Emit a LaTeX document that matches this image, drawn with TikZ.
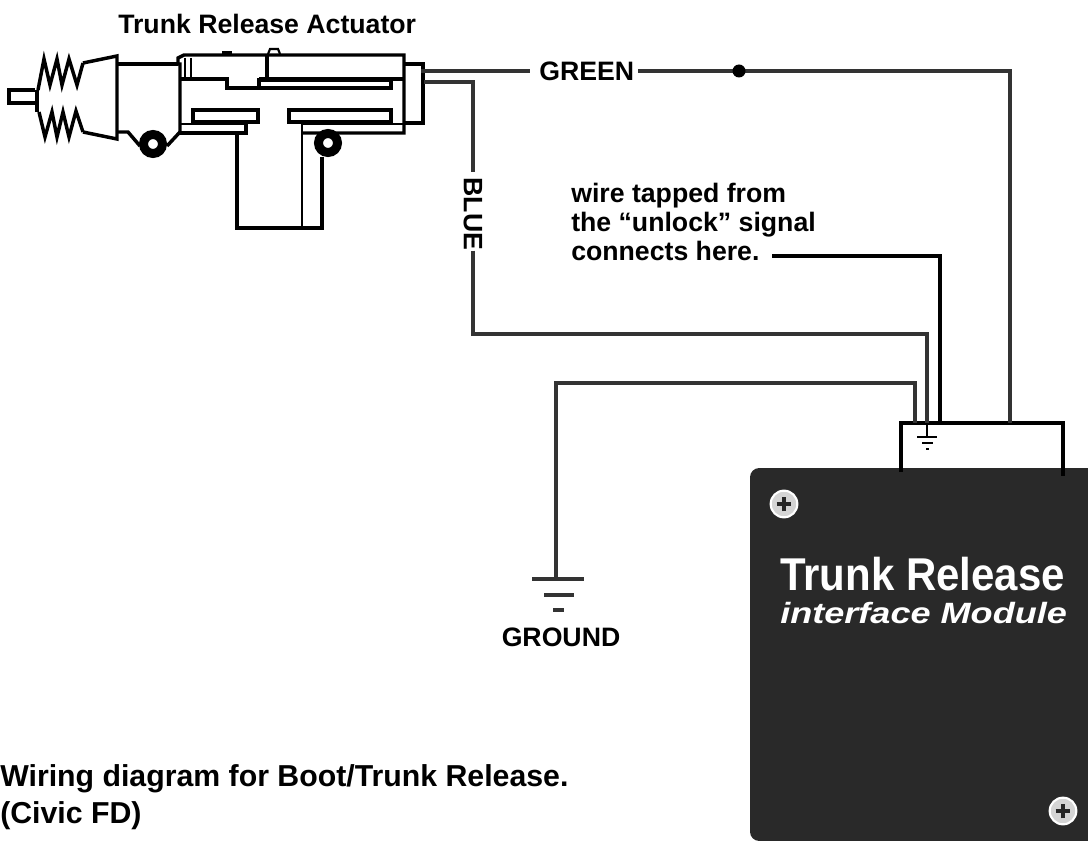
\documentclass[tikz,border=0pt]{standalone}
\usepackage{fontspec}
\setmainfont{Liberation Sans}
\tikzset{
  wire/.style={line width=2.5pt,color=black!80},
  body/.style={line width=2.6pt,line join=miter},
  label/.style={inner sep=0pt,font=\bfseries\fontsize{20}{24}\selectfont},
  plate/.style={fill=black!84,rounded corners=7pt,draw=none},
  screwhead/.style={circle,fill=black!17,draw=white,line width=1.6pt,minimum size=20pt,inner sep=0pt}
}
\begin{document}
\begin{tikzpicture}[x=0.75pt,y=-0.75pt]
\useasboundingbox (0,0) rectangle (1088,841);
% module
\fill[plate] (750,468) rectangle (1110,841);
\node[screwhead] (screwa) at (784,504) {};
\node[screwhead] (screwb) at (1063,811) {};
\foreach \s in {screwa,screwb} {
  \draw[line width=3pt,black!85] ([xshift=-5.5pt]\s.center)--([xshift=5.5pt]\s.center);
  \draw[line width=3pt,black!85] ([yshift=-5.5pt]\s.center)--([yshift=5.5pt]\s.center);
}
\node[anchor=west,inner sep=0pt,white,font=\bfseries\fontsize{34.5}{36}\selectfont] (title) at (780,574) {\scalebox{0.912}[1]{Trunk Release}};
\node[anchor=west,inner sep=0pt,white,font=\bfseries\itshape\fontsize{22}{24}\selectfont] (subtitle) at (780,613) {\scalebox{1.23}[1]{interface Module}};
% connector box
\coordinate (boxl) at (901,423);
\coordinate (boxr) at (1063,423);
\coordinate (boxg) at (915,423);
\coordinate (boxb) at (927,423);
\coordinate (boxu) at (940,423);
\coordinate (boxv) at (1010,423);
\draw[body] (901,472)--(boxl)--(boxr)--(1063,476);
\draw[line width=1pt] (boxb)--(927,437);
\draw[line width=1pt] (917,437)--(937,437);
\draw[line width=1pt] (922,443)--(933,443);
\draw[line width=1.2pt] (926,449)--(929,449);
% labels
\node[label,anchor=west] (actlabel) at (118,24) {Trunk Release Actuator};
\node[label,anchor=west] (green) at (539,71) {GREEN};
\node[label,rotate=-90] (blue) at (473,214) {BLUE};
\node[label,anchor=west,align=left,font=\bfseries\fontsize{20}{21.4}\selectfont] (unlock) at (571,222) {wire tapped from\\the “unlock” signal\\connects here.};
\node[label] (gnd) at (561,637) {GROUND};
\node[label,anchor=west,align=left,font=\bfseries\fontsize{22.7}{27.7}\selectfont] (caption) at (0,797) {Wiring diagram for Boot/Trunk Release.\\(Civic FD)};
% actuator
\coordinate (actg) at (421,71);
\coordinate (actb) at (424,82);
\draw[body] (35,90)--(9,90)--(9,103)--(35,103);
\draw[body] (38,90)--(44,59)--(50,85)--(57,59)--(62,85)--(69,59)--(77,85)--(83,63);
\draw[body] (39,112)--(45,137)--(52,112)--(57,137)--(63,112)--(69,137)--(76,111)--(83,132);
\draw[line width=3.5pt] (37,90)--(37,112);
\draw[body] (83,63)--(117,56)--(117,139)--(83,132);
\draw[body] (117,64)--(178,64);
\draw[body] (117,132)--(128,132)--(140,146);
\draw[body] (167,146)--(180,132);
\draw[line width=6.75pt] (153,144) circle (9.5);
\draw[body] (180,132)--(180,64)--(178,64)--(178,58)--(184,55)--(404,55)--(404,133)--(302,133);
\draw[body] (404,64)--(423,64)--(423,123)--(404,123);
\draw[line width=1.6pt] (185,58)--(185,79) (191,58)--(191,79);
\draw[body] (180,79)--(227,79)--(227,88)--(391,88)--(391,80)--(259,80)--(259,88);
\draw[body] (259,79)--(404,79);
\draw[body] (267,55)--(267,79);
\draw[line width=1.6pt] (268,54)--(270,49)--(278,49)--(280,54);
\draw[line width=3.5pt] (222,53)--(232,53);
\draw[body] (193,110) rectangle (258,122);
\draw[body] (289,110) rectangle (391,122);
\draw[line width=1.6pt] (180,124)--(246,124);
\draw[body] (246,124)--(246,133)--(180,133);
\draw[line width=1.6pt] (302,124)--(404,124);
\draw[body] (237,133)--(237,228)--(322,228)--(322,157);
\draw[line width=1.8pt] (302,124)--(302,228);
\draw[line width=6.75pt] (328,143) circle (9.5);
% wires
\draw[wire,line width=2.8pt] (actg)--([xshift=-7pt]green.west);
\draw[wire] ([xshift=3pt]green.east)--(1010,71)--(boxv);
\coordinate (dot) at (739,71);
\fill (dot) circle (6.5);
\draw[wire,line width=3pt] (actb)--(473,82)--([yshift=4pt]blue.west);
\draw[wire] (blue.east)--(473,334)--(927,334)--(boxb);
\draw[wire,line width=3.4pt,black] (772,256)--(940,256)--(boxu);
\draw[wire] (boxg)--(915,383)--(556,383)--(556,579);
\draw[wire,line width=3pt] (532,579)--(584,579);
\draw[wire,line width=3pt] (544,595)--(574,595);
\draw[wire,line width=3pt] (553,610)--(564,610);
\end{tikzpicture}
\end{document}
